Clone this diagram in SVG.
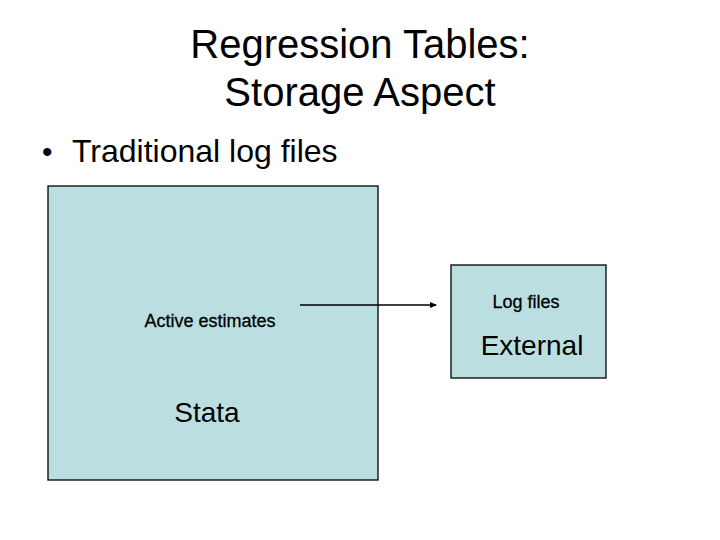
<svg xmlns="http://www.w3.org/2000/svg" width="720" height="540" viewBox="0 0 720 540">
<style>
text{font-family:"Liberation Sans",Arial,sans-serif;fill:#000}
.box{fill:#BBDFE1;stroke:#000;stroke-width:1.3}
.conn{stroke:#000;stroke-width:1.6;fill:none}
.small{font-size:18px;stroke:#000;stroke-width:0.3}
</style>
<defs>
<marker id="arr" markerWidth="8" markerHeight="8" refX="6" refY="3" orient="auto" markerUnits="userSpaceOnUse">
<path d="M0,0 L7,3 L0,6 z" fill="#000"/>
</marker>
</defs>
<rect width="720" height="540" fill="#fff"/>
<g id="title">
<text x="360" y="58" font-size="40" text-anchor="middle">Regression Tables:</text>
<text x="360" y="106" font-size="40" text-anchor="middle">Storage Aspect</text>
</g>
<g id="bullet">
<text x="42" y="162" font-size="30">•</text>
<text x="72" y="162" font-size="32">Traditional log files</text>
</g>
<g id="stata">
<rect class="box" x="48" y="186" width="330" height="294"/>
<text class="small" x="210" y="327" text-anchor="middle">Active estimates</text>
<text x="207" y="422" font-size="28" text-anchor="middle">Stata</text>
</g>
<g id="external">
<rect class="box" x="451" y="265" width="155" height="113"/>
<text class="small" x="526" y="308" text-anchor="middle">Log files</text>
<text x="532" y="355" font-size="28" text-anchor="middle">External</text>
</g>
<g id="connectors">
<line class="conn" x1="300" y1="305" x2="436" y2="305" marker-end="url(#arr)"/>
</g>
</svg>
